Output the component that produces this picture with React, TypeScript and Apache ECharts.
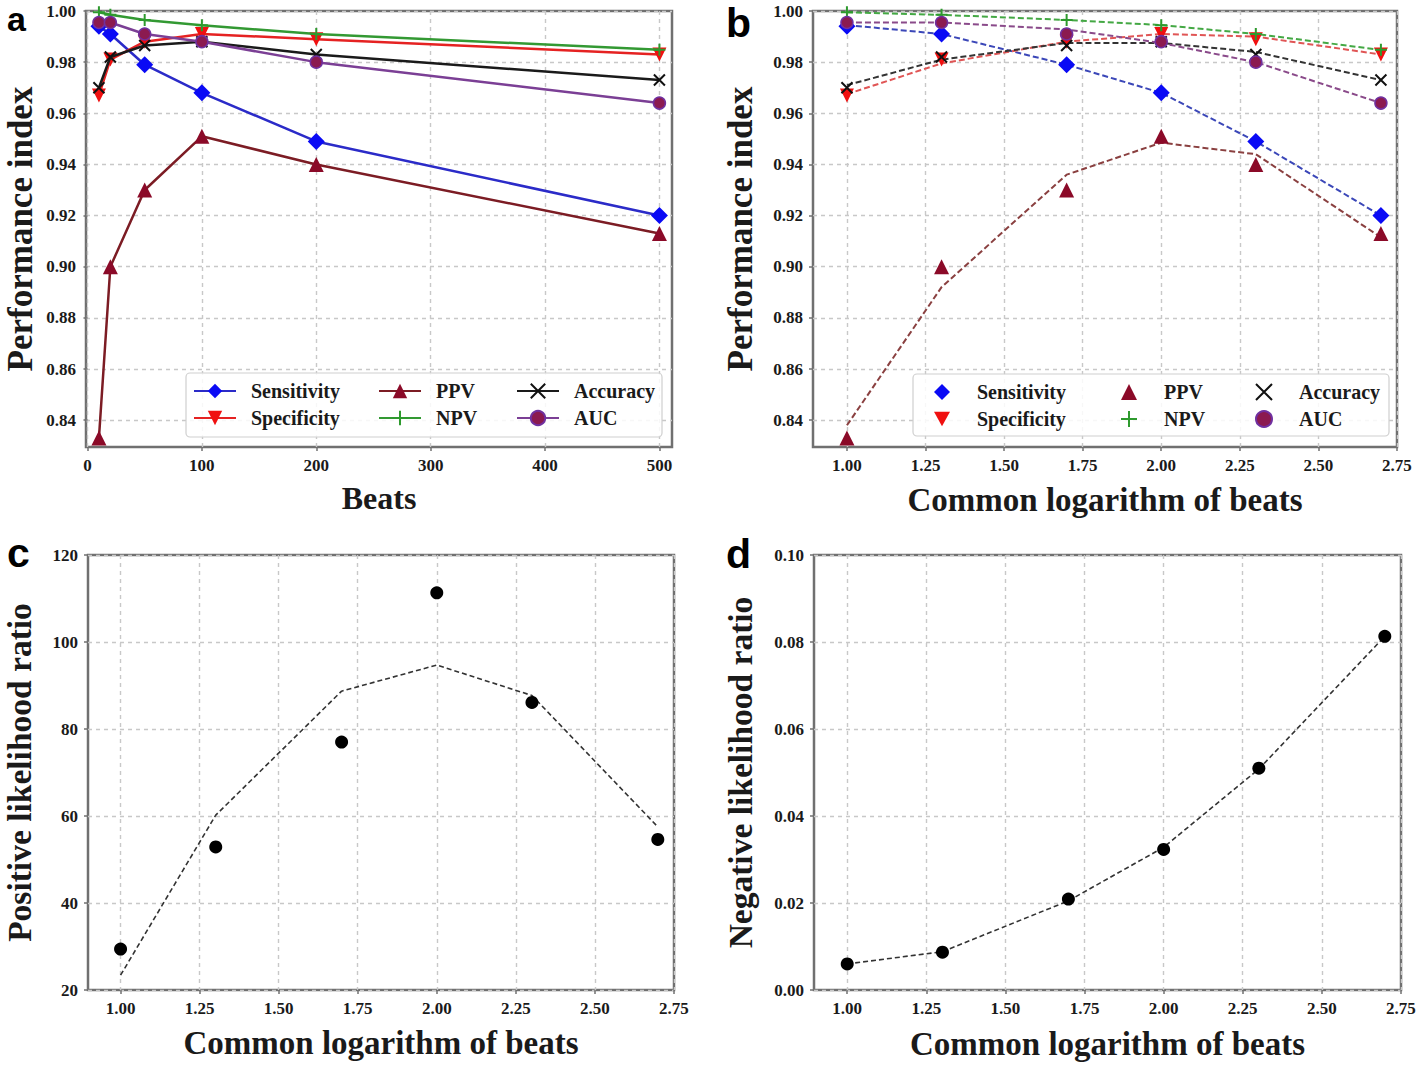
import React, { useEffect, useRef } from "react";
import * as echarts from "echarts";

// ---------- data ----------
const beats = [10, 20, 50, 100, 200, 500];
const logBeats = [1.0, 1.301, 1.699, 2.0, 2.301, 2.699];

const sensitivity = [0.994, 0.991, 0.979, 0.968, 0.949, 0.92];
const specificity = [0.967, 0.981, 0.988, 0.991, 0.989, 0.983];
const ppv = [0.833, 0.9, 0.93, 0.951, 0.94, 0.913];
const npv = [0.9995, 0.9985, 0.9965, 0.9944, 0.991, 0.9848];
const accuracy = [0.97, 0.982, 0.9865, 0.988, 0.983, 0.973];
const auc = [0.9955, 0.9955, 0.991, 0.988, 0.98, 0.964];

const sensitivityFit = [0.9945, 0.991, 0.979, 0.968, 0.949, 0.92];
const specificityFit = [0.9675, 0.9795, 0.988, 0.991, 0.99, 0.983];
const ppvFit = [0.838, 0.892, 0.936, 0.9485, 0.944, 0.9115];
const npvFit = [0.9995, 0.9985, 0.9965, 0.9945, 0.991, 0.9848];
const accuracyFit = [0.971, 0.981, 0.9875, 0.9875, 0.984, 0.973];
const aucFit = [0.9955, 0.9955, 0.9928, 0.9875, 0.98, 0.964];

const plrPoints = [29.4, 52.9, 77.0, 111.3, 86.1, 54.6];
const plrFit = [23.4, 60.2, 88.7, 94.7, 87.7, 57.5];
const nlrPoints = [0.006, 0.0087, 0.0209, 0.0323, 0.051, 0.0813];
const nlrFit = [0.006, 0.0088, 0.0205, 0.0328, 0.0508, 0.0813];

const beatTicks = [0, 100, 200, 300, 400, 500];
const perfTicks = [0.84, 0.86, 0.88, 0.9, 0.92, 0.94, 0.96, 0.98, 1.0];
const logTicks = [1.0, 1.25, 1.5, 1.75, 2.0, 2.25, 2.5, 2.75];
const plrTicks = [20, 40, 60, 80, 100, 120];
const nlrTicks = [0, 0.02, 0.04, 0.06, 0.08, 0.1];

// ---------- styles ----------
const SERIF = "'Liberation Serif', 'Times New Roman', serif";
const SANS = "'Liberation Sans', Arial, sans-serif";
const FRAME = "#707070";
const GRIDLINE = "#c8c8c8";
const TEXT = "#1a1a1a";
const X_PATH = "path://M0 0L10 10M10 0L0 10";
const PLUS_PATH = "path://M5 0L5 10M0 5L10 5";
const DOWN_TRI = "path://M0 0L10 0L5 9Z";

const metrics = [
  { name: "Sensitivity", values: sensitivity, fit: sensitivityFit, symbol: "diamond", size: 17, color: "#0a0af5", border: "#0a0af5", bw: 0, line: "#2b2bc8", fitLine: "#3b47b8" },
  { name: "Specificity", values: specificity, fit: specificityFit, symbol: DOWN_TRI, size: 14, color: "#f01010", border: "#f01010", bw: 0, line: "#e52222", fitLine: "#e05555" },
  { name: "PPV", values: ppv, fit: ppvFit, symbol: "triangle", size: 15, color: "#8b0a28", border: "#8b0a28", bw: 0, line: "#7c1c24", fitLine: "#8a4040" },
  { name: "NPV", values: npv, fit: npvFit, symbol: PLUS_PATH, size: 12, color: "#2e9a2e", border: "#2e9a2e", bw: 2, line: "#339933", fitLine: "#44a844" },
  { name: "Accuracy", values: accuracy, fit: accuracyFit, symbol: X_PATH, size: 11, color: "#111111", border: "#111111", bw: 2, line: "#1a1a1a", fitLine: "#333333" },
  { name: "AUC", values: auc, fit: aucFit, symbol: "circle", size: 12, color: "#8b1a50", border: "#7030a0", bw: 1.5, line: "#7b3f95", fitLine: "#8a4a8a" },
];

const pairs = (xs: number[], ys: number[]) => xs.map((x, i) => [x, ys[i]]);

function axis(o: { min: number; max: number; ticks: number[]; fmt: (v: number) => string; name: string; nameGap: number; nameSize: number; }) {
  return {
    type: "value",
    min: o.min,
    max: o.max,
    name: o.name,
    nameLocation: "middle",
    nameGap: o.nameGap,
    nameMoveOverlap: false,
    nameTextStyle: { fontFamily: SERIF, fontWeight: "bold", fontSize: o.nameSize, color: TEXT },
    axisLine: { show: false },
    axisTick: { show: true, customValues: o.ticks, length: 4, lineStyle: { color: FRAME, width: 1.5 } },
    axisLabel: { customValues: o.ticks, formatter: (v: number) => o.fmt(v), margin: 10, fontFamily: SERIF, fontWeight: "bold", fontSize: 17, color: TEXT },
    splitLine: { show: true, lineStyle: { color: GRIDLINE, type: [4, 4], width: 1.4 } },
  };
}

const gridOf = (left: number, top: number, width: number, height: number) => ({
  left, top, width, height, show: true, borderColor: FRAME, borderWidth: 2.5, backgroundColor: "transparent",
  containLabel: false, outerBoundsMode: "none",
});

// y is the letter's baseline
const letter = (t: string, x: number, baseline: number, size: number) => ({
  type: "text", x, y: baseline - 0.3465 * size, z: 100,
  style: { text: t, font: `bold ${size}px ${SANS}`, fill: "#000", verticalAlign: "middle" },
});

const frameRect = (x: number, y: number, w: number, h: number) => ({
  type: "rect", shape: { x, y, width: w, height: h, r: 4 }, z: 50,
  style: { fill: "rgba(255,255,255,0.85)", stroke: "#cfcfcf", lineWidth: 1.2 },
});

function legendCol(names: string[], left: number, top: number, iw: number, ih: number, pad: number) {
  return {
    data: names, orient: "vertical", left, top, itemWidth: iw, itemHeight: ih, itemGap: 7, padding: 0,
    selectedMode: false, z: 60,
    textStyle: { fontFamily: SERIF, fontWeight: "bold", fontSize: 20, color: TEXT, padding: [0, 0, 0, pad] },
  };
}

const fmt2 = (v: number) => v.toFixed(2);

function optionA() {
  return {
    animation: false,
    grid: gridOf(86, 11, 586, 436),
    xAxis: axis({ min: -1.3, max: 511, ticks: beatTicks, fmt: (v) => String(Math.round(v)), name: "Beats", nameGap: 35, nameSize: 32 }),
    yAxis: axis({ min: 0.8295, max: 1.0, ticks: perfTicks, fmt: fmt2, name: "Performance index", nameGap: 48, nameSize: 35 }),
    legend: [
      legendCol(["Sensitivity", "Specificity"], 193, 381, 42, 18, 10),
      legendCol(["PPV", "NPV"], 378, 381, 42, 18, 10),
      legendCol(["Accuracy", "AUC"], 516, 381, 42, 18, 10),
    ],
    graphic: [frameRect(186, 373, 476, 64), letter("a", 7, 30.5, 34)],
    series: metrics.map((m, i) => ({
      type: "line", name: m.name, data: pairs(beats, m.values), symbol: m.symbol, symbolSize: m.size,
      lineStyle: { color: m.line, width: 2.5 }, itemStyle: { color: m.color, borderColor: m.border, borderWidth: m.bw }, z: 3 + i,
    })),
  };
}

function optionB() {
  return {
    animation: false,
    grid: gridOf(104, 11, 584, 436),
    xAxis: axis({ min: 0.892, max: 2.7502, ticks: logTicks, fmt: fmt2, name: "Common logarithm of beats", nameGap: 36, nameSize: 33 }),
    yAxis: axis({ min: 0.8295, max: 1.0, ticks: perfTicks, fmt: fmt2, name: "Performance index", nameGap: 55, nameSize: 35 }),
    legend: [
      legendCol(["Sensitivity", "Specificity"], 225, 382, 16, 16, 22),
      legendCol(["PPV", "NPV"], 411, 382, 16, 16, 22),
      legendCol(["Accuracy", "AUC"], 546, 382, 16, 16, 22),
    ],
    graphic: [frameRect(204, 374, 476, 62), letter("b", 17, 37, 41)],
    series: [
      ...metrics.map((m, i) => ({
        type: "line", name: m.name + " fit", data: pairs(logBeats, m.fit), symbol: "none",
        lineStyle: { color: m.fitLine, width: 2, type: [6, 3] }, z: 2 + i,
      })),
      ...metrics.map((m, i) => ({
        type: "scatter", name: m.name, data: pairs(logBeats, m.values), symbol: m.symbol, symbolSize: m.size,
        itemStyle: { color: m.color, borderColor: m.border, borderWidth: m.bw, opacity: 1 }, z: 10 + i,
      })),
    ],
  };
}

// panels c and d live in divs that start at y = 520
function optionC() {
  return {
    animation: false,
    grid: gridOf(88, 35, 586, 435),
    xAxis: axis({ min: 0.897, max: 2.7502, ticks: logTicks, fmt: fmt2, name: "Common logarithm of beats", nameGap: 36, nameSize: 33 }),
    yAxis: axis({ min: 20, max: 120, ticks: plrTicks, fmt: (v) => String(Math.round(v)), name: "Positive likelihood ratio", nameGap: 52, nameSize: 33.5 }),
    graphic: [letter("c", 7, 47, 41)],
    series: [
      { type: "line", name: "PLR fit", data: pairs(logBeats, plrFit), symbol: "none", lineStyle: { color: "#333", width: 1.6, type: [5, 3] }, z: 3 },
      { type: "scatter", name: "PLR", data: pairs(logBeats, plrPoints), symbol: "circle", symbolSize: 13, itemStyle: { color: "#000", opacity: 1 }, z: 5 },
    ],
  };
}

function optionD() {
  return {
    animation: false,
    grid: gridOf(105, 35, 587, 435),
    xAxis: axis({ min: 0.895, max: 2.7502, ticks: logTicks, fmt: fmt2, name: "Common logarithm of beats", nameGap: 37, nameSize: 33 }),
    yAxis: axis({ min: 0, max: 0.1, ticks: nlrTicks, fmt: fmt2, name: "Negative likelihood ratio", nameGap: 57, nameSize: 33.5 }),
    graphic: [letter("d", 17, 48, 41)],
    series: [
      { type: "line", name: "NLR fit", data: pairs(logBeats, nlrFit), symbol: "none", lineStyle: { color: "#333", width: 1.6, type: [5, 3] }, z: 3 },
      { type: "scatter", name: "NLR", data: pairs(logBeats, nlrPoints), symbol: "circle", symbolSize: 13, itemStyle: { color: "#000", opacity: 1 }, z: 5 },
    ],
  };
}

export default function App() {
  const ra = useRef<HTMLDivElement>(null);
  const rb = useRef<HTMLDivElement>(null);
  const rc = useRef<HTMLDivElement>(null);
  const rd = useRef<HTMLDivElement>(null);

  useEffect(() => {
    const refs = [ra, rb, rc, rd];
    const opts = [optionA(), optionB(), optionC(), optionD()];
    const charts = refs.map((r, i) => {
      const c = echarts.init(r.current as HTMLDivElement, null, { renderer: "svg" });
      c.setOption(opts[i] as any);
      return c;
    });
    return () => charts.forEach((c) => c.dispose());
  }, []);

  const q = (left: number, top: number, h: number) => ({ position: "absolute" as const, left, top, width: 709, height: h });
  return (
    <div style={{ position: "absolute", left: 0, top: 0, width: 1418, height: 1066, background: "#fff" }}>
      <div ref={ra} style={q(0, 0, 520)} />
      <div ref={rb} style={q(709, 0, 520)} />
      <div ref={rc} style={q(0, 520, 546)} />
      <div ref={rd} style={q(709, 520, 546)} />
    </div>
  );
}
